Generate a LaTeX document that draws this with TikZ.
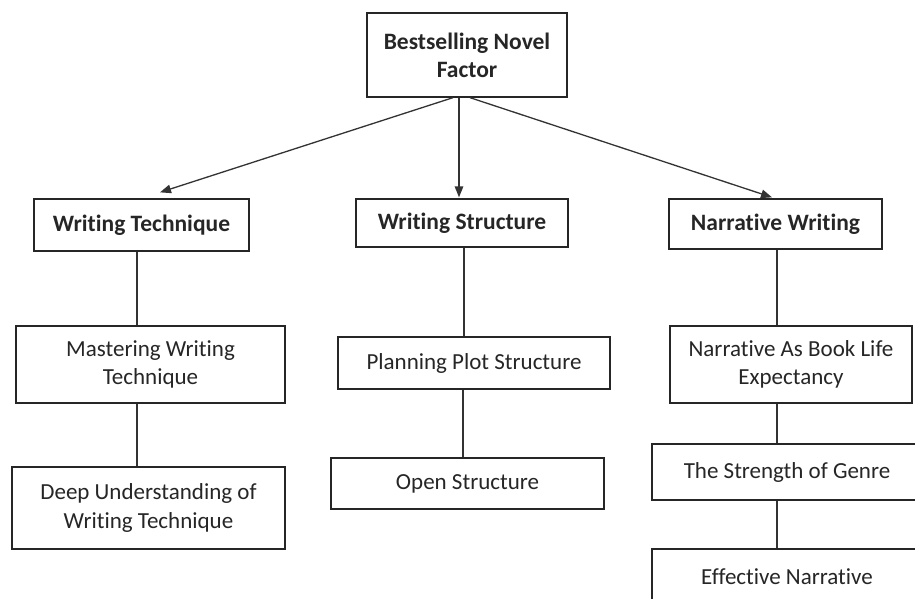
\documentclass[tikz,border=0pt]{standalone}
\usepackage{fontspec}
\setmainfont{Carlito}[Ligatures=NoCommon]
\usetikzlibrary{arrows.meta}
\begin{document}
\begin{tikzpicture}[x=1pt,y=-1pt,
  box/.style={draw=black!85, line width=1.3pt, fill=white, inner sep=0pt, align=center,
    font=\fontsize{23}{28.5}\selectfont, text=black!85},
  hbox/.style={box, font=\fontsize{23.5}{28}\selectfont\bfseries},
  link/.style={draw=black!80, line width=1.3pt},
  arr/.style={link, -{Triangle[length=11pt,width=8.5pt]}}]
\useasboundingbox (0,0) rectangle (915,598);
\clip (0,0) rectangle (915,598);
\fill[white] (0,0) rectangle (915,598);
% level 0
\node[hbox, minimum width=200pt, minimum height=84pt] (top) at (467,55) {Bestselling Novel\\Factor};
% level 1
\node[hbox, minimum width=215pt, minimum height=52pt] (wt) at (141.5,225) {Writing Technique};
\node[hbox, minimum width=212pt, minimum height=48pt] (ws) at (462,223) {Writing Structure};
\node[hbox, minimum width=213pt, minimum height=50pt] (nw) at (775.5,224) {Narrative Writing};
% level 2+
\node[box, minimum width=269pt, minimum height=77pt] (mw) at (150.5,364.5) {Mastering Writing\\Technique};
\node[box, minimum width=273pt, minimum height=82pt] (du) at (148.5,508) {Deep Understanding of\\Writing Technique};
\node[box, minimum width=272pt, minimum height=52pt] (pp) at (474,363) {Planning Plot Structure};
\node[box, minimum width=273pt, minimum height=51pt] (os) at (467.5,483.5) {Open Structure};
\node[box, minimum width=242pt, minimum height=77pt] (nb) at (791,364.5) {Narrative As Book Life\\Expectancy};
\node[box, minimum width=270pt, minimum height=56pt] (sg) at (787,472) {The Strength of Genre};
\node[box, minimum width=270pt, minimum height=56pt] (en) at (787,577) {Effective Narrative};
% arrows
\draw[arr] ([xshift=-14pt]top.south) -- ([xshift=18.5pt,yshift=6pt]wt.north);
\draw[arr] ([xshift=-8pt]top.south) -- ([xshift=-3pt,yshift=1pt]ws.north);
\draw[arr] ([xshift=3pt]top.south) -- ([xshift=-3.5pt,yshift=1pt]nw.north);
% connectors
\path ([xshift=-4.5pt]wt.south) coordinate (c1);
\draw[link] (c1) -- (c1 |- mw.north);
\path ([xshift=-13.5pt]mw.south) coordinate (c2);
\draw[link] (c2) -- (c2 |- du.north);
\path ([xshift=2pt]ws.south) coordinate (c3);
\draw[link] (c3) -- (c3 |- pp.north);
\path ([xshift=-11pt]pp.south) coordinate (c4);
\draw[link] (c4) -- (c4 |- os.north);
\path ([xshift=1.5pt]nw.south) coordinate (c5);
\draw[link] (c5) -- (c5 |- nb.north);
\path ([xshift=-14pt]nb.south) coordinate (c6);
\draw[link] (c6) -- (c6 |- sg.north);
\path ([xshift=-10pt]sg.south) coordinate (c7);
\draw[link] (c7) -- (c7 |- en.north);
\end{tikzpicture}
\end{document}
